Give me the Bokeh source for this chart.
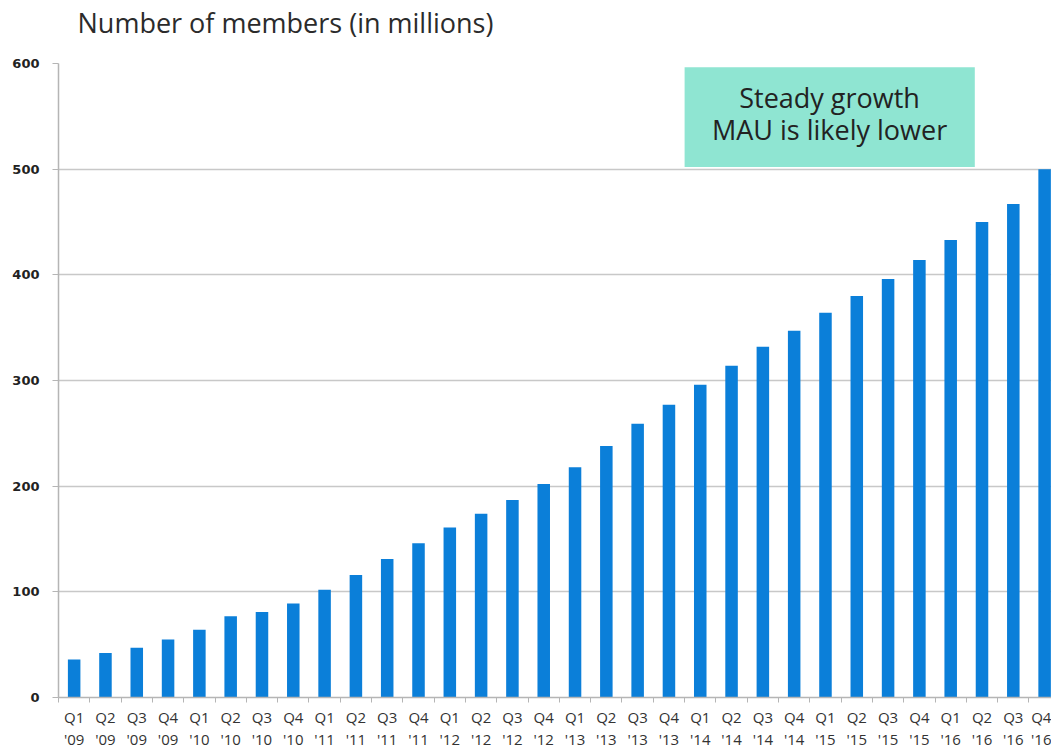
from bokeh.plotting import figure
from bokeh.models import Range1d, FixedTicker, BoxAnnotation, Label, Title
from bokeh.embed import file_html
from bokeh.resources import INLINE

quarters = ["Q1", "Q2", "Q3", "Q4"] * 8
years = ["'09"] * 4 + ["'10"] * 4 + ["'11"] * 4 + ["'12"] * 4 + ["'13"] * 4 + ["'14"] * 4 + ["'15"] * 4 + ["'16"] * 4
members = [36, 42, 47, 55, 64, 77, 81, 89, 102, 116, 131, 146, 161, 174, 187, 202,
           218, 238, 259, 277, 296, 314, 332, 347, 364, 380, 396, 414, 433, 450, 467, 500]
y_ticks = [0, 100, 200, 300, 400, 500, 600]
title_text = "Number of members (in millions)"
note_lines = ["Steady growth", "MAU is likely lower"]

idx = list(range(len(members)))

p = figure(width=1051, height=753, output_backend="svg", toolbar_location=None,
           x_range=Range1d(-0.5, 31.22), y_range=Range1d(0, 600),
           min_border_left=58, min_border_right=0, min_border_bottom=56, min_border_top=0)
p.outline_line_color = None
p.background_fill_color = "white"
p.border_fill_color = "white"

# spacer between the title and the plot frame
p.add_layout(Title(text=" ", text_font_size="1px", standoff=15), "above")

p.title.text = title_text
p.title.text_font = "Open Sans"
p.title.text_font_style = "normal"
p.title.text_font_size = "27px"
p.title.text_color = "#2b2b2b"
p.title.offset = 19
p.title.vertical_align = "top"
p.title.standoff = 6

p.vbar(x=idx, top=members, width=0.4, bottom=0, fill_color="#0b7fd9", line_color=None)

# annotation box
p.add_layout(BoxAnnotation(left=19.5, right=28.77, bottom=502, top=596.5,
                           fill_color="#8fe5d2", fill_alpha=1.0, line_color=None, level="underlay"))
p.add_layout(Label(x=24.13, y=568, text=note_lines[0], text_align="center", text_baseline="middle",
                   text_font="Open Sans", text_font_size="27px", text_color="#222222"))
p.add_layout(Label(x=24.13, y=538, text=note_lines[1], text_align="center", text_baseline="middle",
                   text_font="Open Sans", text_font_size="27px", text_color="#222222"))

# y axis
p.yaxis.ticker = FixedTicker(ticks=y_ticks)
p.yaxis.axis_line_color = "#b5b5b5"
p.yaxis.axis_line_width = 1.5
p.yaxis.major_tick_line_color = "#b5b5b5"
p.yaxis.major_tick_out = 6
p.yaxis.major_tick_in = 0
p.yaxis.minor_tick_line_color = None
p.yaxis.major_label_text_font = "DejaVu Sans"
p.yaxis.major_label_text_font_style = "bold"
p.yaxis.major_label_text_font_size = "13px"
p.yaxis.major_label_text_color = "#222222"
p.yaxis.major_label_standoff = 13

# x axis
p.xaxis.ticker = FixedTicker(ticks=idx, minor_ticks=[i - 0.5 for i in range(len(members) + 1)])
p.xaxis.major_label_overrides = {i: f"{q}\n{y}" for i, (q, y) in enumerate(zip(quarters, years))}
p.xaxis.axis_line_color = "#b5b5b5"
p.xaxis.axis_line_width = 1.5
p.xaxis.major_tick_line_color = None
p.xaxis.minor_tick_line_color = "#b5b5b5"
p.xaxis.minor_tick_out = 5
p.xaxis.minor_tick_in = 0
p.xaxis.major_label_text_font = "Open Sans"
p.xaxis.major_label_text_font_size = "15px"
p.xaxis.major_label_text_color = "#333333"
p.xaxis.major_label_text_line_height = 1.14
p.xaxis.major_label_standoff = 3

p.xgrid.grid_line_color = None
p.ygrid.ticker = FixedTicker(ticks=y_ticks)
p.ygrid.grid_line_color = "#c8c8c8"
p.ygrid.grid_line_width = 1.5

open("out.html", "w").write(file_html(p, INLINE))
